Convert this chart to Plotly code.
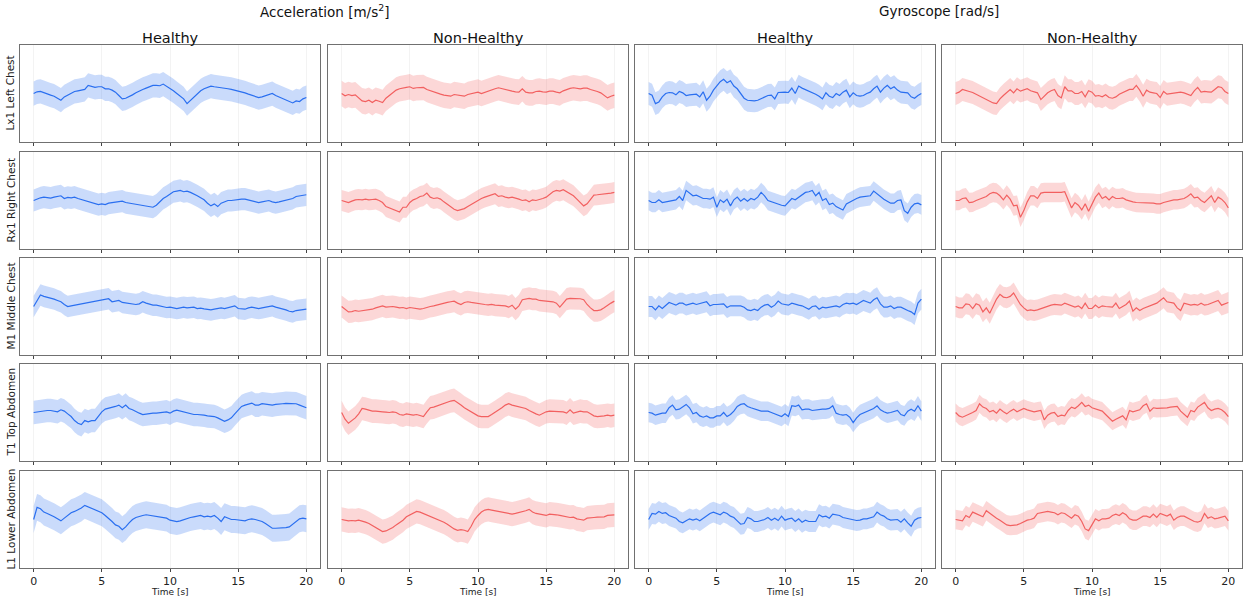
import plotly.graph_objects as go
from plotly.subplots import make_subplots

TIME_STEP = 0.25
SENSORS = ["Lx1 Left Chest", "Rx1 Right Chest", "M1 Middle Chest", "T1 Top Abdomen", "L1 Lower Abdomen"]
GROUPS = ["Acceleration [m/s<sup>2</sup>]", "Gyroscope [rad/s]"]
CONDITIONS = ["Healthy", "Non-Healthy"]
X_TICKS = [0, 5, 10, 15, 20]

# ---------------- Row 1: Lx1 Left Chest ----------------
A_H_LX1 = [0, .05, .06, .02, -.03, -.05, -.08, -.14, -.20, -.10, -.04, .02, .06, .08, .09, .12,
           .24, .22, .18, .20, .20, .14, .14, .10, .04, -.06, -.16, -.14, -.10, -.04, .02, .08,
           .12, .16, .20, .24, .24, .23, .28, .22, .16, .08, 0, -.08, -.16, -.30, -.20, -.10,
           -.02, .08, .14, .18, .22, .20, .19, .18, .16, .14, .12, .10, .06, .04, .02, -.02,
           -.06, -.10, -.12, -.10, -.06, -.02, 0, -.06, -.10, -.14, -.18, -.24, -.28, -.22, -.24, -.16,
           -.12]
A_NH_LX1 = [0, -.07, -.03, -.06, -.04, -.12, -.22, -.24, -.20, -.27, -.20, -.23, -.27, -.14, -.06, .04,
            .10, .14, .17, .18, .20, .15, .17, .18, .18, .12, .08, .05, .02, -.02, -.05, -.07,
            -.08, -.03, -.05, -.07, -.08, -.03, 0, .03, .04, 0, .04, .07, .12, .14, .17, .14,
            .12, .09, .07, .05, .04, .14, .04, .02, .02, .06, .07, .05, .04, .07, .07, .04,
            .02, .08, .12, .15, .17, .15, .14, .16, .16, .12, .10, .06, .02, -.06, -.13, -.08,
            -.05]
G_H_LX1 = [0, -.05, -.30, -.25, -.10, 0, .03, .02, -.04, .06, .02, -.06, -.04, -.03, -.02, -.10,
           .05, -.20, -.08, .10, .22, .35, .42, .32, .38, .22, .14, 0, -.14, -.20, -.22, -.22,
           -.20, -.16, -.10, -.06, -.05, -.16, .03, .04, .04, .03, .16, 0, .22, .16, .12, .08,
           .04, -.02, -.08, -.16, .02, -.08, -.12, 0, -.06, .04, .10, -.10, .02, -.06, -.08, -.06,
           0, .04, .14, .22, .04, .16, .24, .14, .20, .10, .04, .02, .02, -.10, -.14, -.06,
           0]
G_NH_LX1 = [0, .04, .12, .10, .06, .03, -.02, -.08, -.12, -.16, -.22, -.28, -.30, -.16, -.06, .02,
            .12, .02, .14, .07, .10, .14, .08, .06, .02, -.18, -.08, .02, .08, .12, -.06, -.13,
            .20, .08, .08, 0, 0, .06, -.10, .08, .04, -.08, -.06, -.10, -.04, -.12, -.14, -.10,
            -.02, .02, .08, .12, .12, .24, .10, -.08, .10, .04, .02, 0, -.12, .06, -.02, 0,
            0, .02, .04, .02, -.02, -.06, .08, .18, .04, .06, .05, .04, .12, .20, .18, .06,
            0]

# ---------------- Row 2: Rx1 Right Chest ----------------
A_H_RX1 = [0, .05, .08, .10, .08, .07, .10, .12, .14, .06, .09, .08, .10, .06, .03, 0,
           -.02, -.05, -.08, -.12, -.10, -.12, -.08, -.06, -.05, -.04, -.02, -.06, -.08, -.10, -.12, -.14,
           -.14, -.16, -.18, -.20, -.14, -.04, .06, .12, .20, .26, .28, .30, .26, .28, .24, .20,
           .14, .08, .02, -.08, -.16, -.10, -.18, -.08, -.04, 0, 0, .02, .02, .04, .04, .02,
           0, -.02, -.06, -.04, -.02, 0, -.04, -.06, -.04, -.02, 0, .02, .06, .12, .14, .16,
           .17]
A_NH_RX1 = [0, -.04, -.06, -.02, .02, .03, .02, .04, .02, .03, .04, 0, -.06, -.18, -.22, -.26,
            -.30, -.34, -.20, -.20, -.06, .02, .06, .12, .14, .22, .10, .06, .08, .04, -.04, -.12,
            -.18, -.26, -.30, -.28, -.24, -.18, -.12, -.04, 0, .06, .10, .14, .18, .20, .12, .14,
            .10, .08, .10, .08, .04, 0, .02, -.04, .02, 0, .02, .06, .10, .18, .26, .30,
            .28, .32, .26, .20, .14, .04, -.06, -.16, -.10, .04, .16, .17, .18, .18, .20, .22,
            .24]
G_H_RX1 = [0, -.06, -.06, .02, -.06, -.04, 0, .02, .02, .12, 0, .30, .22, .14, .16, .10,
           .06, .06, .04, .10, -.20, .02, -.06, .04, -.16, .02, .10, -.02, .06, -.02, .06, .02,
           .10, .24, .14, 0, -.04, -.08, -.12, -.14, -.16, -.06, .06, .02, .10, .18, .24, .26,
           .30, .14, .24, 0, .06, -.12, -.08, -.18, -.24, -.28, -.10, -.04, .02, .06, .10, .12,
           .12, .14, .28, .20, .10, .04, -.02, -.08, -.08, 0, .02, -.30, -.38, -.20, -.10, -.08,
           -.13]
G_NH_RX1 = [0, 0, .06, .08, -.06, -.05, 0, .04, .08, .12, .20, .24, .22, .14, .02, .16,
            .04, -.16, -.14, -.50, -.30, -.04, .14, .14, .06, .22, .24, .24, .24, .22, .22, .24,
            .26, 0, -.22, -.06, -.14, -.28, -.10, -.32, -.10, .10, .22, .06, .12, .02, .12, .06,
            .06, .08, .02, -.02, -.04, -.06, -.06, -.08, -.08, -.08, -.08, -.10, -.10, -.06, -.03, -.02,
            .02, .02, .04, .06, .12, .20, .08, .10, 0, -.06, .04, .14, -.06, .10, .04, -.06,
            -.22]

# ---------------- Row 3: M1 Middle Chest ----------------
A_H_M1 = [0, .18, .34, .30, .28, .26, .22, .18, .14, .06, 0, .02, .04, .04, .06, .10,
          .12, .14, .16, .17, .18, .22, .23, .14, .16, .18, .12, .10, .08, .08, .06, .08,
          .14, .10, .06, .04, .04, .02, -.02, -.03, -.02, -.04, -.06, -.04, -.02, -.04, -.04, -.02,
          -.06, -.05, -.07, -.08, -.10, -.08, -.06, -.04, -.06, -.03, -.02, .02, -.06, -.06, -.08, -.04,
          -.02, -.04, -.06, -.04, -.02, 0, .02, -.02, -.04, -.06, -.10, -.14, -.16, -.12, -.10, -.08,
          -.08]
A_NH_M1 = [0, -.08, -.16, -.15, -.12, -.14, -.13, -.12, -.10, -.08, -.04, -.02, .02, -.02, 0, 0,
           -.02, -.04, -.03, -.06, -.03, -.04, -.06, -.08, -.06, -.02, 0, .02, .05, .08, .10, .12,
           .14, .16, .10, .06, .12, .14, .12, .10, .08, .06, .06, .05, .06, .04, .03, .02,
           .02, -.02, .04, -.08, .02, .20, .22, .24, .22, .22, .18, .17, .16, .16, .14, .10,
           -.02, .10, .22, .24, .24, .24, .23, .20, .06, -.04, -.12, -.12, -.10, -.04, .04, .10,
           .16]
G_H_M1 = [0, 0, -.10, .02, -.06, .04, .12, .08, .04, .10, .10, .04, .06, .10, .06, .08,
          .12, .14, .02, .06, .06, .06, .08, -.03, .02, .02, .02, .02, -.02, -.10, -.12, -.08,
          -.12, -.02, .04, .06, -.02, .04, .16, .08, .06, .04, .10, .06, .04, .02, -.04, -.08,
          0, .02, -.08, -.02, -.04, -.02, 0, .02, -.02, .06, .10, .08, .10, .06, .12, .18,
          .14, .10, .20, .26, .08, -.02, -.02, .02, -.06, -.02, -.02, -.08, -.12, -.16, -.24, .10,
          .22]
G_NH_M1 = [0, -.04, -.04, .08, .06, -.06, .08, .04, -.16, -.04, -.20, .02, .22, .36, .28, .26,
           .30, .40, .22, .06, -.04, -.12, -.10, -.12, -.10, -.06, -.02, .02, .04, .06, .05, .04,
           .10, .06, .02, -.02, .02, -.06, .10, -.06, -.06, .04, -.04, .02, 0, -.02, -.02, .10,
           -.06, 0, .06, .16, -.14, -.04, -.12, -.06, -.02, .02, .06, .10, .18, .26, .14, .12,
           .10, -.04, -.12, .10, .06, .04, .06, .04, .10, .04, .06, .10, .14, .18, .04, .08,
           .12]

# ---------------- Row 4: T1 Top Abdomen ----------------
A_H_T1 = [0, .02, .04, .06, .06, .06, .04, .02, .08, .04, -.04, -.12, -.24, -.32, -.36, -.24,
          -.28, -.24, -.24, -.12, .02, .10, .12, .14, .18, .22, .14, .22, .12, .08, .02, -.02,
          -.06, -.04, -.04, -.02, -.02, -.01, .02, .02, -.02, .04, .07, .04, .02, -.02, -.05, -.06,
          -.06, -.06, -.08, -.10, -.10, -.12, -.16, -.22, -.26, -.22, -.16, -.04, .08, .18, .22, .25,
          .28, .22, .22, .26, .24, .22, .22, .24, .26, .26, .27, .26, .26, .26, .22, .18,
          .14]
A_NH_T1 = [0, -.20, -.32, -.24, -.16, -.04, .12, .10, .06, .04, .04, .02, .02, .01, 0, .02,
           0, -.06, -.08, -.04, -.06, -.08, -.06, -.10, -.12, .02, .14, .16, .20, .22, .26, .30,
           .34, .36, .30, .22, .14, .08, 0, -.06, -.10, -.12, -.12, -.12, -.06, 0, .06, .14,
           .22, .26, .22, .20, .18, .16, .12, .06, 0, -.04, -.08, -.02, .02, .04, .04, .02,
           .04, .02, -.02, .08, -.02, .02, .04, .02, .02, -.04, -.10, -.12, -.12, -.10, -.08, -.10,
           -.08]
G_H_T1 = [0, -.02, -.08, -.04, -.02, -.02, .14, .22, .08, .10, .18, .24, .14, -.04, 0, -.10,
          -.14, -.10, -.16, -.16, -.10, -.10, 0, -.12, -.06, .04, .18, .24, .26, .18, .14, .10,
          .06, .04, .04, .04, 0, -.04, -.10, -.12, -.04, -.12, .20, .18, .22, .08, .10, .10,
          .06, .08, .10, .10, .10, .12, .20, -.02, -.06, -.08, -.06, -.14, -.30, -.16, -.06, -.02,
          .02, .06, .12, .20, .08, .02, -.02, 0, .04, .06, -.06, -.10, .04, .10, .04, .20,
          .04]
G_NH_T1 = [0, -.10, -.14, -.10, -.04, 0, .06, .26, .16, .12, .02, .06, -.02, .10, .02, -.04,
           .04, .10, .02, .06, .12, .08, .06, .02, .04, .06, -.22, -.08, -.02, 0, -.12, -.08,
           -.10, .06, .16, .12, .20, .30, .18, .22, .14, .10, .08, .04, -.06, -.16, -.26, -.20,
           -.14, -.10, -.22, .06, .02, .06, .08, .20, .26, .04, .14, .12, .12, .14, .14, .16,
           .16, .18, .04, -.06, -.14, .06, .02, .16, .24, .30, .14, .06, .10, .12, .08, 0,
           -.12]

# ---------------- Row 5: L1 Lower Abdomen ----------------
A_H_L1 = [0, .36, .32, .22, .18, .14, .08, .02, -.04, .04, .12, .20, .24, .28, .34, .42,
          .38, .34, .30, .26, .20, .12, .04, -.06, -.16, -.20, -.30, -.22, -.10, 0, .06, .10,
          .12, .14, .12, .12, .10, .08, .06, .04, -.02, -.04, -.06, -.04, 0, .04, .06, .08,
          .10, .12, .08, .10, .08, .12, .04, -.06, .08, .04, 0, 0, -.02, -.02, -.04, 0,
          .02, 0, -.02, -.06, -.12, -.20, -.26, -.26, -.26, -.25, -.24, -.22, -.14, -.06, .02, .04,
          .02]
A_NH_L1 = [0, -.02, -.04, -.03, -.04, -.02, -.04, -.08, -.12, -.18, -.26, -.32, -.36, -.34, -.30, -.24,
           -.16, -.10, -.02, .08, .14, .20, .24, .22, .18, .14, .10, .06, .02, -.02, -.08, -.14,
           -.22, -.28, -.32, -.30, -.32, -.36, -.20, 0, .12, .22, .28, .30, .28, .26, .24, .22,
           .20, .18, .16, .18, .20, .22, .26, .30, .22, .18, .16, .14, .12, .16, .16, .14,
           .12, .10, .08, .06, .07, .02, 0, -.02, .04, .06, .06, .07, .07, .08, .12, .12,
           .14]
G_H_L1 = [0, .18, .16, .24, .18, .20, .12, .08, .04, -.06, -.10, -.04, .02, -.02, .02, -.04,
          .04, .10, .18, .22, .18, .14, .22, .18, .10, .06, -.04, -.14, -.12, .06, .02, -.06,
          -.06, -.04, 0, .06, -.02, .04, -.03, .10, -.02, .02, .04, -.06, .02, -.08, -.02, -.06,
          -.06, -.06, .14, .08, .10, .04, .16, .14, .12, .06, .04, 0, -.02, -.03, -.02, .02,
          .02, .04, .08, .22, .14, .10, .02, -.02, -.02, 0, -.08, .02, -.10, -.20, -.02, .04,
          .06]
G_NH_L1 = [0, -.02, -.04, .12, .06, .22, .18, .12, .08, .26, .18, .10, .04, -.02, -.08, -.16,
           -.18, -.18, -.16, -.12, -.06, -.02, 0, .04, .18, .20, .22, .24, .22, .20, .14, .20,
           .18, .12, .04, .14, .10, -.06, -.28, -.33, -.16, .02, -.04, .02, .02, .04, .12, .16,
           .12, .20, .14, .02, -.02, -.02, .04, .10, .10, .06, .16, .06, .18, .14, .10, .16,
           -.02, .06, .10, .10, .04, -.02, -.06, -.08, -.04, .18, .04, .08, .02, .04, .06, .10,
           -.04]

# Panel order per row: Acc-Healthy, Acc-Non-Healthy, Gyro-Healthy, Gyro-Non-Healthy
SERIES = [
    [A_H_LX1, A_NH_LX1, G_H_LX1, G_NH_LX1],
    [A_H_RX1, A_NH_RX1, G_H_RX1, G_NH_RX1],
    [A_H_M1, A_NH_M1, G_H_M1, G_NH_M1],
    [A_H_T1, A_NH_T1, G_H_T1, G_NH_T1],
    [A_H_L1, A_NH_L1, G_H_L1, G_NH_L1],
]
# Standard-deviation half-widths of the shaded bands
BAND = [
    [0.36, 0.38, 0.34, 0.34],
    [0.33, 0.31, 0.29, 0.29],
    [0.32, 0.33, 0.31, 0.31],
    [0.35, 0.35, 0.29, 0.27],
    [0.40, 0.36, 0.31, 0.29],
]

LINE_COLORS = {"Healthy": "#2a6ff0", "Non-Healthy": "#f26060"}
FILL_COLORS = {"Healthy": "rgba(42,111,240,0.25)", "Non-Healthy": "rgba(242,96,96,0.25)"}

W, H = 1250, 600
COL_PX = [(20, 320), (328, 628), (635, 935), (942, 1242)]
ROW_PX = [(45, 142), (152, 249), (258, 355), (364, 461), (471, 568)]
FONT = "DejaVu Sans"


def px_x(p):
    return p / W


def px_y(p):
    return 1 - p / H


fig = make_subplots(rows=5, cols=4)

for r in range(5):
    for c in range(4):
        cond = CONDITIONS[c % 2]
        vals = SERIES[r][c]
        t = [k * TIME_STEP for k in range(len(vals))]
        b = BAND[r][c]
        upper = [v + b for v in vals]
        lower = [v - b for v in vals]
        fig.add_trace(go.Scatter(x=t, y=upper, mode="lines", line=dict(width=0),
                                 hoverinfo="skip", showlegend=False), row=r + 1, col=c + 1)
        fig.add_trace(go.Scatter(x=t, y=lower, mode="lines", line=dict(width=0),
                                 fill="tonexty", fillcolor=FILL_COLORS[cond],
                                 hoverinfo="skip", showlegend=False), row=r + 1, col=c + 1)
        fig.add_trace(go.Scatter(x=t, y=vals, mode="lines",
                                 line=dict(color=LINE_COLORS[cond], width=1.2),
                                 showlegend=False), row=r + 1, col=c + 1)

        n = r * 4 + c + 1
        xa = "xaxis" if n == 1 else f"xaxis{n}"
        ya = "yaxis" if n == 1 else f"yaxis{n}"
        x0, x1 = COL_PX[c]
        y0, y1 = ROW_PX[r]
        fig.layout[xa].update(
            domain=[px_x(x0), px_x(x1)], range=[-1, 21], tickvals=X_TICKS,
            showticklabels=(r == 4), ticks="outside", ticklen=3, tickwidth=1, tickcolor="#444",
            showgrid=True, gridcolor="#f3f3f3", gridwidth=1, zeroline=False,
            showline=True, mirror=True, linecolor="#707070", linewidth=1,
            tickfont=dict(family=FONT, size=11, color="#222"),
        )
        fig.layout[ya].update(
            domain=[px_y(y1), px_y(y0)], range=[-1.44, 1.44],
            showticklabels=False, ticks="", showgrid=False, zeroline=False,
            showline=True, mirror=True, linecolor="#707070", linewidth=1,
        )

annotations = []
# group titles
for g, (ca, cb) in enumerate([(0, 1), (2, 3)]):
    xc = (COL_PX[ca][0] + COL_PX[cb][1]) / 2
    annotations.append(dict(text=GROUPS[g], x=px_x(xc), y=px_y(11), xref="paper", yref="paper",
                            showarrow=False, xanchor="center", yanchor="middle",
                            font=dict(family=FONT, size=13.5, color="#111")))
# column titles and x-axis titles
for c in range(4):
    xc = (COL_PX[c][0] + COL_PX[c][1]) / 2
    annotations.append(dict(text=CONDITIONS[c % 2], x=px_x(xc), y=px_y(38), xref="paper", yref="paper",
                            showarrow=False, xanchor="center", yanchor="middle",
                            font=dict(family=FONT, size=14.5, color="#111")))
    annotations.append(dict(text="Time [s]", x=px_x(xc), y=px_y(592), xref="paper", yref="paper",
                            showarrow=False, xanchor="center", yanchor="middle",
                            font=dict(family=FONT, size=9, color="#222")))
# row labels
for r in range(5):
    yc = (ROW_PX[r][0] + ROW_PX[r][1]) / 2
    annotations.append(dict(text=SENSORS[r], x=px_x(10), y=px_y(yc), xref="paper", yref="paper",
                            showarrow=False, xanchor="center", yanchor="middle", textangle=-90,
                            font=dict(family=FONT, size=10.5, color="#222")))

fig.update_layout(
    width=W, height=H, margin=dict(l=0, r=0, t=0, b=0),
    plot_bgcolor="white", paper_bgcolor="white", showlegend=False,
    font=dict(family=FONT), annotations=annotations,
)

# remove the default page margin so the 1250x600 figure fills the window exactly
fig.write_html("out.html", config={"displayModeBar": False},
               post_script="document.body.style.margin='0px';")
